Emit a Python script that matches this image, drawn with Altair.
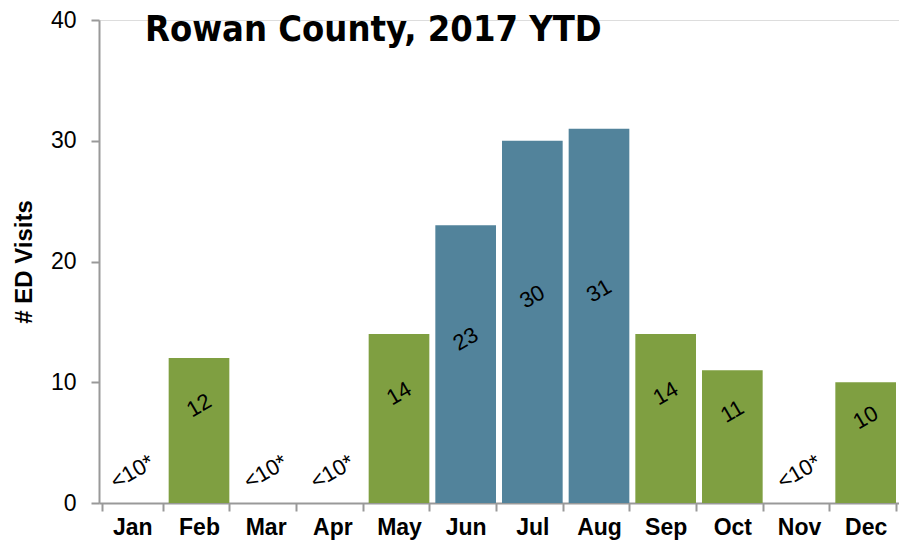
import altair as alt
import pandas as pd

months = ["Jan", "Feb", "Mar", "Apr", "May", "Jun", "Jul", "Aug", "Sep", "Oct", "Nov", "Dec"]
visits = [None, 12, None, None, 14, 23, 30, 31, 14, 11, None, 10]
season = ["other", "other", "other", "other", "other", "summer", "summer", "summer",
          "other", "other", "other", "other"]
suppressed_label = "<10*"

rows = []
for m, v, s in zip(months, visits, season):
    rows.append({
        "month": m,
        "visits": v,
        "season": s,
        "label": suppressed_label if v is None else str(v),
        "mid": 0 if v is None else v / 2,
        "sup": v is None,
    })
df = pd.DataFrame(rows)

FONT = "Liberation Sans"

x = alt.X("month:N", sort=months, title=None,
          scale=alt.Scale(paddingInner=0.09, paddingOuter=0.045),
          axis=alt.Axis(labelAngle=0, labelFontWeight="bold", labelFontSize=23,
                        labelColor="black", labelFont=FONT, labelPadding=5,
                        tickBand="extent", tickSize=8, tickColor="#999999",
                        domainColor="#999999", tickWidth=2, domainWidth=2))

bars = alt.Chart(df).mark_bar().encode(
    x=x,
    y=alt.Y("visits:Q", title="# ED Visits",
            scale=alt.Scale(domain=[0, 40], nice=False),
            axis=alt.Axis(values=[0, 10, 20, 30, 40], grid=False, tickSize=8,
                          tickColor="#999999", domainColor="#999999",
                          tickWidth=2, domainWidth=2,
                          labelFontSize=23, labelColor="black", labelFont=FONT,
                          labelPadding=15, titleFontSize=24, titleFontWeight="bold",
                          titleFont=FONT, titleColor="black", titlePadding=14)),
    color=alt.Color("season:N", legend=None,
                    scale=alt.Scale(domain=["other", "summer"],
                                    range=["#7F9F41", "#52839B"])),
)

labels = alt.Chart(df).transform_filter("!datum.sup").mark_text(
    angle=330, fontSize=22, font=FONT, color="black", yOffset=-25
).encode(
    x=alt.X("month:N", sort=months),
    y=alt.Y("mid:Q"),
    text="label:N",
)

sup_labels = alt.Chart(df).transform_filter("datum.sup").mark_text(
    angle=330, fontSize=22, font=FONT, color="black", yOffset=-31
).encode(
    x=alt.X("month:N", sort=months),
    y=alt.Y("mid:Q"),
    text="label:N",
)

chart = alt.layer(bars, labels, sup_labels).properties(
    width=800, height=483,
    padding={"left": 91, "top": 12, "right": 0, "bottom": 38},
    autosize=alt.AutoSizeParams(type="none"),
    title=alt.TitleParams("Rowan County, 2017 YTD", anchor="start", frame="group",
                          dx=46, dy=44, fontSize=36, font="DejaVu Sans Condensed",
                          fontWeight="bold", color="black"),
).configure_view(stroke=None).configure(background="white")

chart.save("out.html", embed_options={"renderer": "svg", "actions": False})
